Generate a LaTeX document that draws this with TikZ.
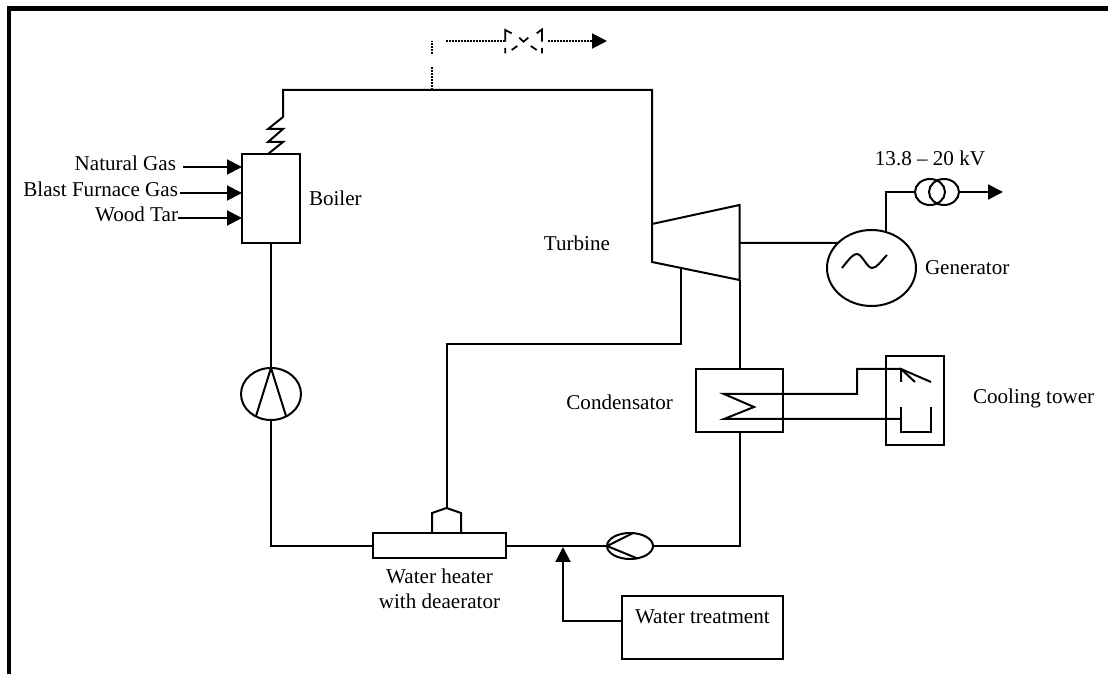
\documentclass[tikz,border=0pt]{standalone}
\usepackage{fontspec}
\setmainfont{Liberation Serif}
\usetikzlibrary{calc,positioning,arrows.meta,shapes.geometric}
\tikzset{
  pipe/.style      = {line width=0.4mm, line join=miter},
  flowline/.style  = {pipe, -{Triangle[length=3mm,width=3mm]}},
  plantbox/.style  = {draw, line width=0.4mm, inner sep=0pt, outer sep=0pt},
  plantoval/.style = {plantbox, ellipse},
  plantlabel/.style = {font=\fontsize{12}{14.2}\selectfont, inner sep=0pt, outer sep=0pt, align=center},
  feedlabel/.style = {plantlabel, anchor=east, text height=1.5mm, text depth=0mm},
  bypass/.style    = {line width=0.4mm, dash pattern=on 0.3mm off 0.3mm},
  valveline/.style = {line width=0.35mm},
  frameline/.style = {line width=0.9mm},
}
\begin{document}
\begin{tikzpicture}[x=0.2mm, y=-0.2mm]
  \useasboundingbox (0,0) rectangle (1108,674);
  \draw[frameline] (9,674) -- (9,8.4) -- (1108,8.4);

  \node[plantbox, minimum width=11.6mm, minimum height=17.8mm] (boiler) at (271,198.5) {};
  \node[plantlabel, right=1.8mm of boiler] (boilertxt) {Boiler};
  \node[feedlabel, inner xsep=1.4mm] (natural) at (183,167) {Natural Gas};
  \node[feedlabel, inner xsep=0.4mm] (blast) at (180,193) {Blast Furnace Gas};
  \node[feedlabel] (wood) at (178,218) {Wood Tar};
  \draw[flowline] (natural.east) -- (natural.east -| boiler.west);
  \draw[flowline] (blast.east) -- (blast.east -| boiler.west);
  \draw[flowline] (wood.east) -- (wood.east -| boiler.west);

  \node[plantoval, minimum width=12mm, minimum height=10.4mm, below=25mm of boiler] (feedpump) {};
  \node[plantbox, minimum width=26.6mm, minimum height=5mm] (heater) at (439.5,546) {};
  \node[plantlabel, below=2mm of heater] (heatertxt) {Water heater\\with deaerator};
  \node[plantoval, minimum width=9.2mm, minimum height=5.2mm] (condpump) at (630,546) {};
  \node[plantbox, minimum width=17.4mm, minimum height=12.6mm] (condenser) at (739.5,400.5) {};
  \node[plantlabel, left=4.6mm of condenser, yshift=-0.3mm] (condensertxt) {Condensator};
  \node[plantbox, minimum width=11.6mm, minimum height=17.8mm, right=20.6mm of condenser] (tower) {};
  \node[plantlabel, right=5.8mm of tower, yshift=0.4mm] (towertxt) {Cooling tower};
  \node[plantbox, minimum width=32.2mm, minimum height=12.6mm] (treatment) at (702.5,627.5) {};
  \node[plantlabel, anchor=west] (treatmenttxt) at (635,617) {Water treatment};
  \node[plantoval, minimum width=17.8mm, minimum height=15.2mm] (generator) at (871.5,268) {};
  \node[plantlabel, right=1.8mm of generator] (generatortxt) {Generator};
  \node[plantoval, minimum width=6mm, minimum height=5.2mm] (trafoa) at (930,192) {};
  \node[plantoval, minimum width=6mm, minimum height=5.2mm] (trafob) at (944,192) {};
  \node[plantlabel, above=2.6mm of trafoa] (trafotxt) {13.8 – 20 kV};
  \node[plantlabel, anchor=east] (turbinetxt) at (610,243) {Turbine};

  \coordinate (superheat) at (283,117);
  \coordinate (steamtop) at (283,90);
  \coordinate (steamtap) at (432,90);
  \coordinate (steamturn) at (652,90);
  \coordinate (turbinein) at (652,224);
  \coordinate (turbineout) at (739.5,280);
  \coordinate (shaft) at (739.5,243);
  \coordinate (bleed) at (681,268);
  \coordinate (bleedturn) at (681,344);
  \coordinate (dome) at (446.5,508);
  \coordinate (mixpoint) at (563,547);
  \coordinate (gridout) at (1003,192);
  \coordinate (coilin) at (724,394);
  \coordinate (coilout) at (724,419);
  \coordinate (spray) at (901,369);
  \coordinate (basin) at (901,419);

  \draw[pipe] (boiler.north) ++(-3,0) -- (283,142) -- (268,142) -- (283,129) -- (268,129) -- (superheat) -- (steamtop) -- (steamturn) -- (turbinein);
  \draw[pipe] (turbinein) -- (739.5,205) -- (turbineout) -- (652,262) -- cycle;
  \draw[pipe] (shaft) -- (generator.143);
  \draw[pipe] (generator.68) |- (trafoa.west);
  \draw[flowline] (trafob.east) -- (gridout);
  \draw[pipe] (842,268) .. controls (850,258) and (853,254) .. (857,254) .. controls (862,254) and (867,268) .. (872,268) .. controls (877,268) and (881,261) .. (887,255);

  \draw[pipe] (boiler.south) -- (feedpump.north);
  \draw[pipe] (feedpump.-124) -- (feedpump.north) -- (feedpump.-56);
  \draw[pipe] (feedpump.south) |- (heater.west);
  \draw[pipe] (heater.east) -- (condpump.west);
  \draw[pipe] (condpump.77) -- (condpump.west) -- (condpump.-60);
  \draw[pipe] (condpump.east) -| (condenser.south);
  \draw[pipe] (turbineout) -- (condenser.north);
  \draw[pipe] (bleed) -- (bleedturn) -| (dome);
  \draw[pipe] (432,533.5) -- (432,513) -- (dome) -- (461,513) -- (461,533.5);
  \draw[flowline] ([yshift=1.3mm]treatment.west) -| (mixpoint);

  \draw[pipe] (basin) -- (coilout) -- (754,407) -- (coilin) -- (857,394) -- (857,369) -- (spray);
  \draw[pipe] (901,382) -- (spray) -- (931,382);
  \draw[pipe] (spray) -- (915,382);
  \draw[pipe] (901,407) -- (901,432) -- (931,432) -- (931,407);

  \draw[bypass] (steamtap) -- (432,66);
  \draw[bypass] (432,54) -- (432,41);
  \draw[bypass] (446,41) -- (505,41);
  \draw[bypass, -{Triangle[length=3mm,width=3mm]}] (548,41) -- (607,41);
  \draw[valveline] (505.3,53.5) -- (505.3,48) (505.3,41.6) -- (505.3,30) -- (511.7,33.3) (519.3,37.7) -- (523.5,41.7) -- (528.3,37.7) (536.7,33.3) -- (542,29.5) -- (542,41.6) (542,48) -- (542,53.5) (511.7,50) -- (517.3,46) (530.7,46) -- (536.7,50);
\end{tikzpicture}
\end{document}
